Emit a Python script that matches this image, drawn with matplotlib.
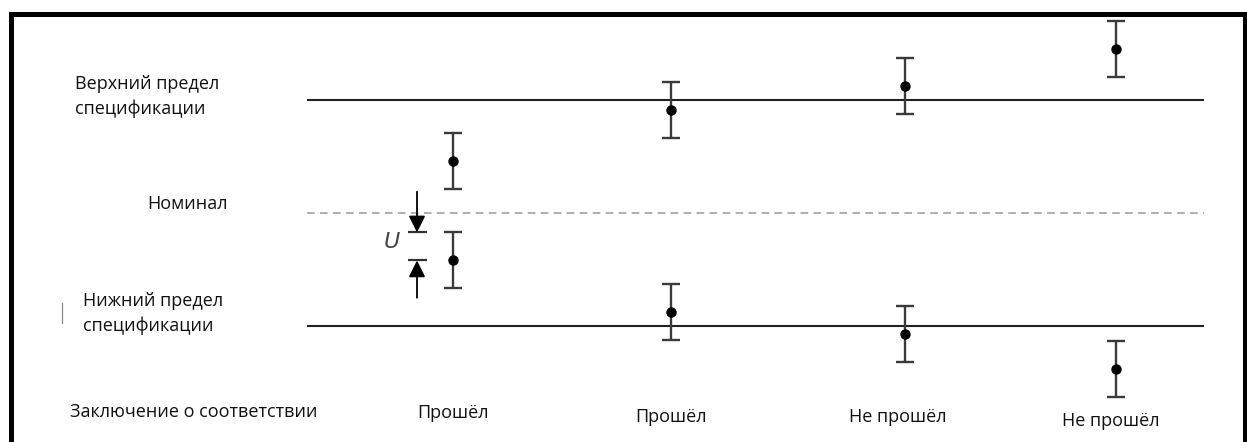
import matplotlib
matplotlib.use("Agg")
import matplotlib.pyplot as plt
from matplotlib.lines import Line2D

plt.rcParams['font.family'] = ['Open Sans', 'DejaVu Sans']

W, H = 1247, 442

# данные: номинал = 0, пределы спецификации = +1 / -1
usl = 1.0
nominal = 0.0
lsl = -1.0
U = 0.248
upper_values = [0.46, 0.91, 1.12, 1.45]
lower_values = [-0.42, -0.88, -1.07, -1.38]
verdicts = ["Прошёл", "Прошёл", "Не прошёл", "Не прошёл"]

usl_label = ["Верхний предел", "спецификации"]
lsl_label = ["Нижний предел", "спецификации"]
nom_label = "Номинал"
row_label = "Заключение о соответствии"

# раскладка (в пикселях картинки)
x_pos = [453, 671, 905, 1116]
verdict_x = [453, 671, 898, 1111]
verdict_base = [418, 421.5, 422, 426]
y0_px, unit_px = 213, 113

fig = plt.figure(figsize=(W / 100, H / 100), dpi=100)
ax = fig.add_axes([0, 0, 1, 1])
ax.set_xlim(0, W)
ax.set_ylim((y0_px - H) / unit_px, y0_px / unit_px)
ax.axis("off")


def fpx(x, y):
    return x / W, 1 - y / H


# линии пределов и номинала
ax.hlines([usl, lsl], 307, 1204, color="#222222", lw=1.5)
ax.hlines(nominal, 307, 1204, color="#999999", lw=1.1, linestyles=(0, (5, 3.5)))

# результаты измерений с неопределённостью
for vals in (upper_values, lower_values):
    ax.errorbar(x_pos, vals, yerr=U, fmt="o", color="#3a3a3a", mfc="black",
                mec="black", ms=6.5, elinewidth=1.7, capsize=6.2, capthick=1.7)

# обозначение U
ax_x = 417
top_tick = lower_values[0] + U
bot_tick = lower_values[0]
ax.hlines([top_tick, bot_tick], 408, 427, color="#333333", lw=1.6)
arrow = dict(arrowstyle="-|>,head_length=1.0,head_width=0.5", color="black",
             lw=1.3, mutation_scale=10, shrinkA=0, shrinkB=0)
ax.annotate("", xy=(ax_x, top_tick), xytext=(ax_x, top_tick + 0.36), arrowprops=arrow)
ax.annotate("", xy=(ax_x, bot_tick), xytext=(ax_x, bot_tick - 0.33), arrowprops=arrow)
ax.text(392, bot_tick + U / 2 + 0.04, "U", style="italic", fontsize=16,
        color="#444444", ha="center", va="center", family=["DejaVu Sans"])

# подписи слева
txt = dict(fontsize=13, color="#111111", va="baseline", transform=fig.transFigure)
fig.text(*fpx(75, 89), usl_label[0], **txt)
fig.text(*fpx(75, 114), usl_label[1], **txt)
fig.text(*fpx(147, 209), nom_label, **txt)
fig.text(*fpx(83, 306), lsl_label[0], **txt)
fig.text(*fpx(83, 331), lsl_label[1], **txt)
fig.text(*fpx(70, 417), row_label, **txt)
for vx, vb, v in zip(verdict_x, verdict_base, verdicts):
    fig.text(*fpx(vx, vb), v, ha="center", **txt)

# маленькая черта слева
fig.add_artist(Line2D([62 / W, 62 / W], [1 - 303 / H, 1 - 323 / H],
                      color="#888888", lw=0.9, transform=fig.transFigure))

# рамка (низ обрезан)
bx = [10.5, 10.5, 1245, 1245]
by = [H + 5, 13.5, 13.5, H + 5]
fig.add_artist(Line2D([x / W for x in bx], [1 - y / H for y in by],
                      color="black", lw=3.6, solid_joinstyle="miter",
                      transform=fig.transFigure))

fig.savefig("out.png", dpi=100)
